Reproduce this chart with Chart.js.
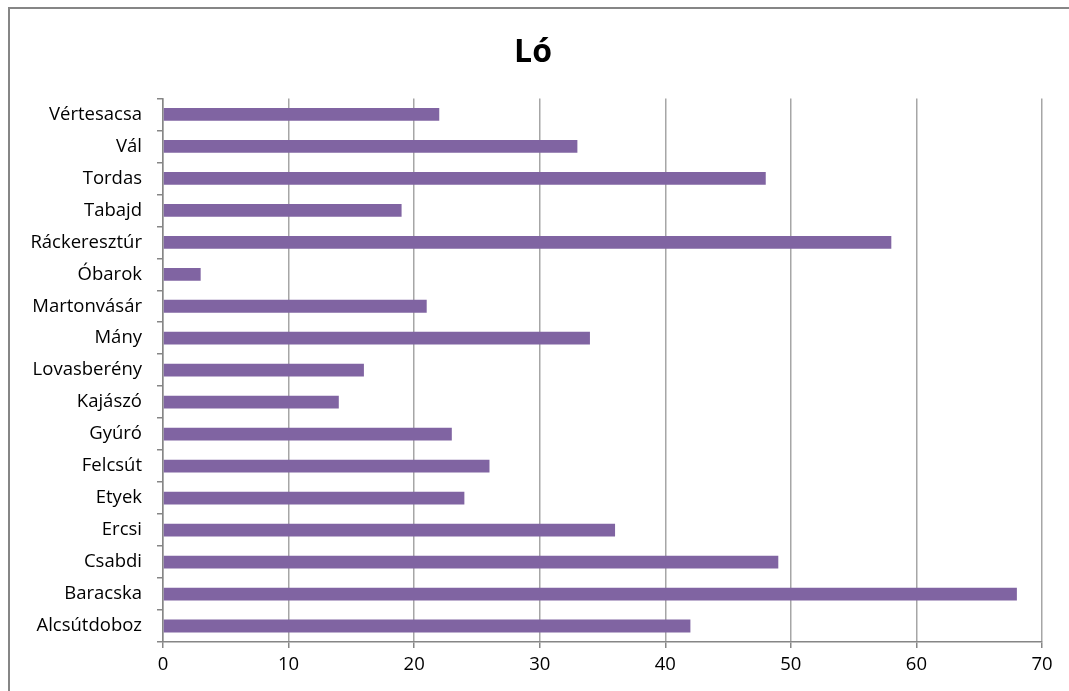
<!DOCTYPE html>
<html>
<head>
<meta charset="utf-8">
<script src="https://cdn.jsdelivr.net/npm/chart.js@4/dist/chart.umd.min.js"></script>
<style>
  html, body { margin: 0; padding: 0; background: #fff; }
  #wrap { width: 1069px; height: 691px; position: relative; }
</style>
</head>
<body>
<div id="wrap"><canvas id="chart"></canvas></div>
<script>
const title = 'Ló';

const towns = [
    'Vértesacsa', 'Vál', 'Tordas', 'Tabajd', 'Ráckeresztúr', 'Óbarok',
    'Martonvásár', 'Mány', 'Lovasberény', 'Kajászó', 'Gyúró', 'Felcsút',
    'Etyek', 'Ercsi', 'Csabdi', 'Baracska', 'Alcsútdoboz'
];

const horses = [22, 33, 48, 19, 58, 3, 21, 34, 16, 14, 23, 26, 24, 36, 49, 68, 42];

const xMin = 0;
const xMax = 70;
const xStep = 10;

// outer frame of the chart object
const framePlugin = {
    id: 'frame',
    beforeDraw(chart) {
        const ctx = chart.ctx;
        ctx.save();
        ctx.fillStyle = '#fff';
        ctx.fillRect(0, 0, chart.width, chart.height);
        ctx.strokeStyle = '#868686';
        ctx.lineWidth = 2;
        ctx.strokeRect(9, 8, chart.width + 20, chart.height + 20);
        ctx.restore();
    }
};

const tickFont = { family: 'Open Sans', size: 18.5 };

new Chart(document.getElementById('chart'), {
    type: 'bar',
    data: {
        labels: towns,
        datasets: [{
            label: title,
            data: horses,
            backgroundColor: '#8064a2',
            borderWidth: 0,
            categoryPercentage: 1,
            barPercentage: 0.4
        }]
    },
    options: {
        indexAxis: 'y',
        responsive: true,
        maintainAspectRatio: false,
        animation: false,
        layout: {
            padding: { top: 10, right: 27, bottom: 0, left: 24 }
        },
        plugins: {
            legend: { display: false },
            tooltip: { enabled: false },
            title: {
                display: true,
                text: title,
                color: '#000',
                font: { family: 'Open Sans', size: 32, weight: 'bold' },
                padding: { top: 24, bottom: 26 }
            }
        },
        scales: {
            x: {
                min: xMin,
                max: xMax,
                ticks: {
                    stepSize: xStep,
                    color: '#000',
                    font: tickFont,
                    padding: 6
                },
                grid: {
                    color: '#a6a6a6',
                    lineWidth: 1.5,
                    tickLength: 6,
                    tickColor: '#868686'
                },
                border: { color: '#868686', width: 1.5 },
                afterFit(scale) { scale.height = 49; }
            },
            y: {
                ticks: {
                    color: '#000',
                    font: tickFont,
                    padding: 15
                },
                grid: {
                    drawOnChartArea: false,
                    tickLength: 6,
                    tickColor: '#868686',
                    lineWidth: 1.5
                },
                border: { color: '#868686', width: 1.5 },
                afterFit(scale) { scale.width = 139; }
            }
        }
    },
    plugins: [framePlugin]
});
</script>
</body>
</html>
